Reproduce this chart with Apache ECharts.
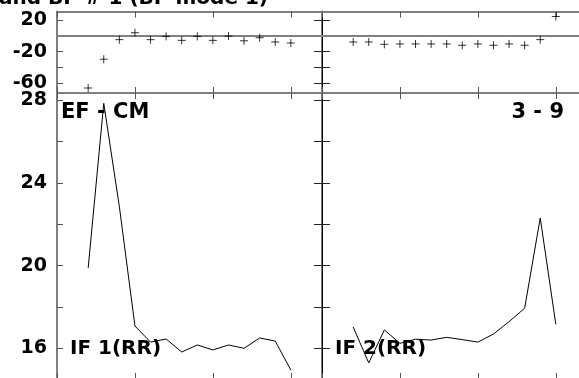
<!DOCTYPE html>
<html>
<head>
<meta charset="utf-8">
<script src="https://cdn.jsdelivr.net/npm/echarts@6/dist/echarts.min.js"></script>
<style>html,body{margin:0;padding:0;background:#fff}#c{width:579px;height:378px}</style>
</head>
<body>
<div id="c"></div>
<script>
// ---- data ----
const steps = [2, 3, 4, 5, 6, 7, 8, 9, 10, 11, 12, 13, 14, 15];
const topLeftValues = [-66.5, -29.6, -4.5, 4.4, -4.5, -0.3, -5.4, -0.3, -5.4, 0, -6, -2, -7.5, -8.8];
const topRightValues = [-7.5, -7.5, -10.5, -10, -10, -10, -10, -11.7, -10, -11.7, -10, -11.7, -4.5, 25.2];
const bottomLeftValues = [19.89, 27.86, 22.86, 17.08, 16.3, 16.45, 15.82, 16.16, 15.92, 16.16, 16.0, 16.5, 16.35, 14.95];
const bottomRightValues = [17.03, 15.29, 16.89, 16.24, 16.44, 16.4, 16.53, 16.42, 16.3, 16.69, 17.29, 17.94, 22.31, 17.16];
const topTicks = [-60, -40, -20, 0, 20];
const topTickLabels = [-60, -20, 20];
const bottomTicks = [16, 18, 20, 22, 24, 26, 28];
const bottomTickLabels = [16, 20, 24, 28];
const xTicksInterval = 5;
const titleText = 'and BP # 1 (BP mode 1)';
const panelTexts = ['EF - CM', '3 - 9', 'IF 1(RR)', 'IF 2(RR)'];

// ---- styles ----
const FONT = 'DejaVu Sans';
const GRAY = '#808080';
const grids = [
  {left: 57, top: 11.5, width: 265, height: 81.5, outerBoundsMode: 'none', containLabel: false},
  {left: 322, top: 11.5, width: 265, height: 81.5, outerBoundsMode: 'none', containLabel: false},
  {left: 57, top: 93, width: 265, height: 287, outerBoundsMode: 'none', containLabel: false},
  {left: 322, top: 93, width: 265, height: 287, outerBoundsMode: 'none', containLabel: false}
];
const yRanges = [[-72.9, 31.6], [-72.9, 31.6], [14.465, 28.36], [14.465, 28.36]];

const xAxes = [], yAxes = [];
grids.forEach((g, i) => {
  ['bottom', 'top'].forEach(pos => {
    xAxes.push({
      gridIndex: i, type: 'value', position: pos, min: 0, max: 17, interval: xTicksInterval,
      axisLine: {show: true, onZero: false, lineStyle: {color: GRAY, width: 2}},
      axisTick: {show: true, inside: true, length: (i >= 2 && pos === 'bottom') ? 7 : 6, lineStyle: {color: '#555', width: 1}},
      axisLabel: {show: false}, splitLine: {show: false}
    });
  });
  const isTop = i < 2, isLeftCol = (i % 2 === 0);
  const ticks = isTop ? topTicks : bottomTicks;
  const labs = isTop ? topTickLabels : bottomTickLabels;
  ['left', 'right'].forEach(pos => {
    const isLeftAxis = pos === 'left';
    const blackAxis = (!isLeftCol && isLeftAxis);
    yAxes.push({
      gridIndex: i, type: 'value', position: pos, min: yRanges[i][0], max: yRanges[i][1],
      axisLine: {show: true, onZero: false, lineStyle: {color: blackAxis ? '#000' : GRAY, width: blackAxis ? 1 : 2}},
      axisTick: {show: true, inside: true, length: (isLeftCol && isLeftAxis) ? 6 : 8, customValues: ticks,
        lineStyle: {color: (isLeftCol && isLeftAxis) ? '#555' : '#222', width: 1}},
      axisLabel: {show: isLeftCol && isLeftAxis, customValues: labs, margin: 10,
        fontFamily: FONT, fontWeight: 'bold', fontSize: 19, color: '#000'},
      splitLine: {show: false}
    });
  });
});

const plus = 'path://M0,5L10,5M5,0L5,10';
function pairs(vals) { return steps.map((s, k) => [s, vals[k]]); }
const zeroLine = {silent: true, symbol: 'none', label: {show: false},
  lineStyle: {color: GRAY, width: 2, type: 'solid'}, data: [{yAxis: 0}]};

const series = [
  {type: 'scatter', xAxisIndex: 0, yAxisIndex: 0, data: pairs(topLeftValues), symbol: plus, symbolSize: 8,
   itemStyle: {color: 'none', borderColor: '#000', borderWidth: 1}, markLine: zeroLine, z: 5},
  {type: 'scatter', xAxisIndex: 2, yAxisIndex: 2, data: pairs(topRightValues), symbol: plus, symbolSize: 8,
   itemStyle: {color: 'none', borderColor: '#000', borderWidth: 1}, markLine: zeroLine, z: 5},
  {type: 'line', xAxisIndex: 4, yAxisIndex: 4, data: pairs(bottomLeftValues), showSymbol: false,
   lineStyle: {color: '#000', width: 1}},
  {type: 'line', xAxisIndex: 6, yAxisIndex: 6, data: pairs(bottomRightValues), showSymbol: false,
   lineStyle: {color: '#000', width: 1}}
];

const txt = (t, x, y, align, size) => ({type: 'text', x, y, z: 100,
  style: {text: t, fill: '#000', font: 'bold ' + size + 'px "' + FONT + '"', align: align, verticalAlign: 'middle'}});

const chart = echarts.init(document.getElementById('c'), null, {renderer: 'canvas'});
chart.setOption({
  animation: false,
  backgroundColor: '#fff',
  grid: grids,
  xAxis: xAxes,
  yAxis: yAxes,
  series: series,
  graphic: [
    txt(titleText, -1, -1, 'left', 20),
    txt(panelTexts[0], 61, 113, 'left', 21),
    txt(panelTexts[1], 564, 113, 'right', 21),
    txt(panelTexts[2], 70, 349, 'left', 20),
    txt(panelTexts[3], 335, 349, 'left', 20)
  ]
});
</script>
</body>
</html>
